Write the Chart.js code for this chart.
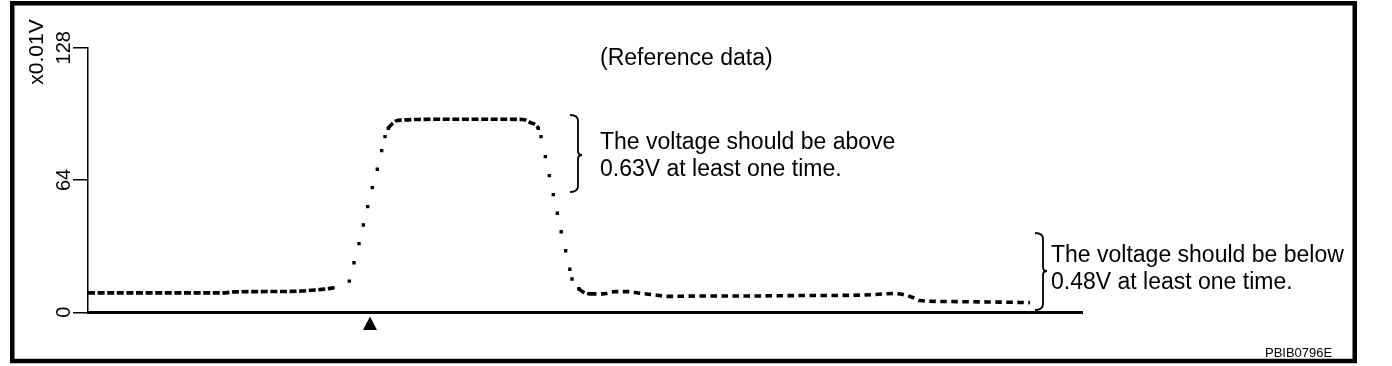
<!DOCTYPE html>
<html><head><meta charset="utf-8">
<script src="https://cdn.jsdelivr.net/npm/chart.js@4.4.1/dist/chart.umd.min.js"></script>
<style>html,body{margin:0;padding:0;background:#fff;overflow:hidden}</style>
</head><body>
<canvas id="c" width="1392" height="366"></canvas>
<script>
// ---- data ----
const timeValues = [0, 52, 112, 135, 147, 202, 227, 245, 261.3, 266, 271, 275.3, 279.7, 284.3, 289.3, 293.7, 297, 300.3, 304, 308.7, 313.7, 330, 370, 400, 435, 442, 450.3, 453, 457.3, 461.3, 465.3, 469.3, 473.2, 477.7, 481.8, 484, 490.8, 502, 515, 527, 540, 552, 567, 579, 612, 662, 712, 762, 787, 805, 815, 824, 832, 862, 902, 942];
const voltageValues = [9.4, 9.4, 9.4, 9.4, 9.9, 10.1, 10.8, 11.8, 15.1, 24.0, 33.2, 42.2, 51.1, 60.3, 69.2, 78.2, 85.0, 89.0, 91.1, 92.7, 93.0, 93.3, 93.4, 93.4, 93.3, 91.9, 89.0, 85.0, 75.3, 66.1, 56.9, 47.9, 39.0, 29.8, 20.8, 16.1, 11.4, 8.9, 8.9, 10.0, 10.0, 9.2, 8.4, 7.7, 7.9, 7.9, 8.1, 8.2, 8.6, 9.1, 8.6, 7.3, 5.7, 5.2, 5.0, 4.7];
const yTickValues = [0, 64, 128];
const yTickLabels = ['0', '64', '128'];
const unitLabel = 'x0.01V';
const titleText = '(Reference data)';
const upperNote = ['The voltage should be above', '0.63V at least one time.'];
const lowerNote = ['The voltage should be below', '0.48V at least one time.'];
const figureCode = 'PBIB0796E';
const triggerTime = 282;
const timeMax = 994;

const FONT = '"Liberation Sans", Arial, Helvetica, sans-serif';
const points = timeValues.map((t, i) => ({ x: t, y: voltageValues[i] }));

function steepPx(x0, y0, x1, y1) {
  const dx = Math.abs(x1 - x0), dy = Math.abs(y1 - y0);
  return dy > 2 * dx || (dy > 6.2 && dy > 0.4 * dx);
}
function steepIdx(chart, i, j) {
  const xs = chart.scales.x, ys = chart.scales.y;
  return steepPx(xs.getPixelForValue(timeValues[i]), ys.getPixelForValue(voltageValues[i]),
                 xs.getPixelForValue(timeValues[j]), ys.getPixelForValue(voltageValues[j]));
}

function drawBrace(ctx, x, top, bot, mid) {
  ctx.beginPath();
  ctx.moveTo(x - 8, top);
  ctx.quadraticCurveTo(x, top, x, top + 6);
  ctx.lineTo(x, mid - 4);
  ctx.quadraticCurveTo(x, mid, x + 4, mid);
  ctx.quadraticCurveTo(x, mid, x, mid + 4);
  ctx.lineTo(x, bot - 6);
  ctx.quadraticCurveTo(x, bot, x - 8, bot);
  ctx.stroke();
}

const extras = {
  id: 'extras',
  afterDraw(chart) {
    const ctx = chart.ctx, ys = chart.scales.y, xs = chart.scales.x, ca = chart.chartArea;
    ctx.save();
    ctx.fillStyle = '#000';
    ctx.strokeStyle = '#000';
    // frame
    ctx.lineWidth = 4.5;
    ctx.strokeRect(12.25, 3.25, 1342.5, 357.75);
    // rotated y tick labels
    ctx.font = '20px ' + FONT;
    ctx.textAlign = 'center';
    ctx.textBaseline = 'alphabetic';
    yTickValues.forEach((v, k) => {
      ctx.save();
      ctx.translate(ca.left - 18, ys.getPixelForValue(v));
      ctx.rotate(-Math.PI / 2);
      ctx.fillText(yTickLabels[k], 0, 0);
      ctx.restore();
    });
    // unit label
    ctx.save();
    ctx.font = '21px ' + FONT;
    ctx.translate(43, 52);
    ctx.rotate(-Math.PI / 2);
    ctx.fillText(unitLabel, 0, 0);
    ctx.restore();
    // title & notes
    ctx.textAlign = 'left';
    ctx.font = '23px ' + FONT;
    ctx.fillText(titleText, 600, 65);
    ctx.fillText(upperNote[0], 600, 149);
    ctx.fillText(upperNote[1], 600, 176);
    ctx.fillText(lowerNote[0], 1051, 262);
    ctx.fillText(lowerNote[1], 1051, 289);
    // braces
    ctx.lineWidth = 1.8;
    drawBrace(ctx, 578, 115, 192, 155);
    drawBrace(ctx, 1043, 233, 310, 271);
    // trigger triangle
    const tx = xs.getPixelForValue(triggerTime);
    ctx.beginPath();
    ctx.moveTo(tx - 7, 330);
    ctx.lineTo(tx + 7, 330);
    ctx.lineTo(tx, 316.5);
    ctx.closePath();
    ctx.fill();
    // figure code
    ctx.font = '13px ' + FONT;
    ctx.fillText(figureCode, 1265, 357);
    ctx.restore();
  }
};

new Chart(document.getElementById('c'), {
  type: 'line',
  data: {
    datasets: [{
      data: points,
      borderColor: '#000',
      borderWidth: 3.6,
      borderDash: [7, 2.6],
      borderCapStyle: 'butt',
      fill: false,
      cubicInterpolationMode: 'monotone',
      pointStyle: 'rect',
      pointBackgroundColor: '#000',
      pointBorderWidth: 0,
      pointHoverRadius: 0,
      pointRadius: (c) => {
        const i = c.dataIndex, n = timeValues.length;
        const s = (i > 0 && steepIdx(c.chart, i - 1, i)) || (i < n - 1 && steepIdx(c.chart, i, i + 1));
        return s ? 2.4 : 0;
      },
      segment: {
        borderColor: (c) => steepPx(c.p0.x, c.p0.y, c.p1.x, c.p1.y) ? 'rgba(0,0,0,0)' : '#000',
        borderDash: (c) => c.p0.x < 580 ? [7, 2.6] : [6.5, 4.5]
      }
    }]
  },
  options: {
    responsive: false,
    animation: false,
    events: [],
    layout: { padding: { left: 73, right: 310, top: 47.7, bottom: 53.7 } },
    plugins: { legend: { display: false }, tooltip: { enabled: false }, title: { display: false } },
    scales: {
      x: {
        type: 'linear', min: 0, max: timeMax,
        grid: { display: false },
        ticks: { display: false },
        border: { display: true, color: '#000', width: 3 },
        afterFit: (s) => { s.height = 0; }
      },
      y: {
        type: 'linear', min: 0, max: 128,
        afterBuildTicks: (s) => { s.ticks = yTickValues.map(v => ({ value: v })); },
        grid: { display: true, drawOnChartArea: false, drawTicks: true, tickLength: 15, color: '#000', lineWidth: 1.5 },
        ticks: { display: false },
        border: { display: true, color: '#000', width: 1.5 },
        afterFit: (s) => { s.width = 15; }
      }
    }
  },
  plugins: [extras]
});
</script>
</body></html>
